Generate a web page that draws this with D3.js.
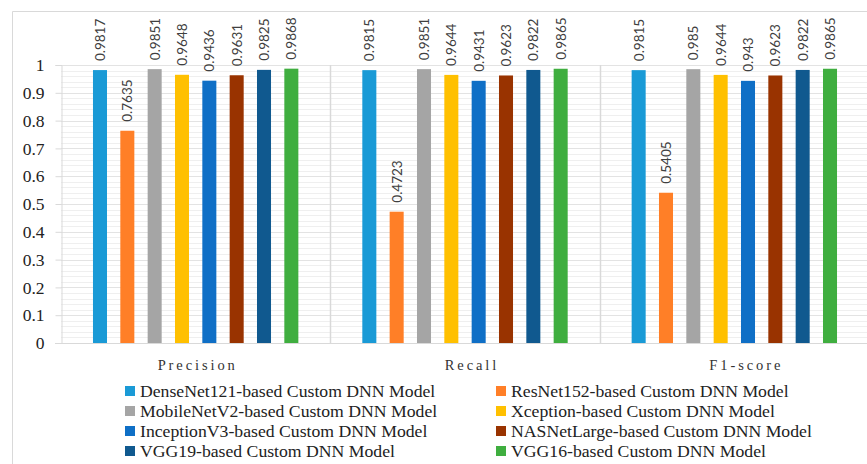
<!DOCTYPE html>
<html>
<head>
<meta charset="utf-8">
<script src="https://cdn.jsdelivr.net/npm/d3@7"></script>
<style>
  html, body { margin: 0; padding: 0; background: #fff; }
  svg { display: block; }
</style>
</head>
<body>
<svg id="chart" width="867" height="464"></svg>
<script>
// Metric groups along the x axis
const metrics = ["Precision", "Recall", "F1-score"];

// One model per bar within each metric group
const models = [
  "DenseNet121-based Custom DNN Model",
  "ResNet152-based Custom DNN Model",
  "MobileNetV2-based Custom DNN Model",
  "Xception-based Custom DNN Model",
  "InceptionV3-based Custom DNN Model",
  "NASNetLarge-based Custom DNN Model",
  "VGG19-based Custom DNN Model",
  "VGG16-based Custom DNN Model"
];

// Scores per metric, in the same order as the models
const precision = [0.9817, 0.7635, 0.9851, 0.9648, 0.9436, 0.9631, 0.9825, 0.9868];
const recall    = [0.9815, 0.4723, 0.9851, 0.9644, 0.9431, 0.9623, 0.9822, 0.9865];
const f1score   = [0.9815, 0.5405, 0.985,  0.9644, 0.943,  0.9623, 0.9822, 0.9865];

const yTicks = [0, 0.1, 0.2, 0.3, 0.4, 0.5, 0.6, 0.7, 0.8, 0.9, 1];

const colors = ["#1a9ad6", "#ff7f27", "#a5a5a5", "#ffc000", "#0f6fc6", "#993300", "#10598f", "#3fae3f"];

const seriesByMetric = [precision, recall, f1score];
const rows = metrics.map((m, i) => ({
  metric: m,
  values: models.map((name, j) => ({ model: name, value: seriesByMetric[i][j], idx: j }))
}));

const svg = d3.select("#chart");
const W = 867, H = 464;
const plot = { left: 61, right: 869, top: 65, bottom: 343 };

// Chart frame
svg.append("path")
  .attr("d", `M12.5,${H} L12.5,11.5 L${W},11.5`)
  .attr("fill", "none").attr("stroke", "#d9d9d9").attr("stroke-width", 1);

const y = d3.scaleLinear().domain([0, 1]).range([plot.bottom, plot.top]);
const x0 = d3.scaleBand().domain(metrics).range([plot.left, plot.right]).padding(0);
const x1 = d3.scaleBand().domain(d3.range(models.length))
  .range([0, x0.bandwidth()]).paddingInner(0.487).paddingOuter(1.17);

// Minor gridlines
const minor = d3.range(0, 1.0001, 0.02);
svg.append("g").selectAll("line").data(minor).join("line")
  .attr("x1", plot.left).attr("x2", plot.right)
  .attr("y1", d => Math.round(y(d)) + 0.5).attr("y2", d => Math.round(y(d)) + 0.5)
  .attr("stroke", "#efefef").attr("stroke-width", 1);

// Major gridlines
svg.append("g").selectAll("line").data(yTicks).join("line")
  .attr("x1", plot.left).attr("x2", plot.right)
  .attr("y1", d => Math.round(y(d)) + 0.5).attr("y2", d => Math.round(y(d)) + 0.5)
  .attr("stroke", "#e3e3e3").attr("stroke-width", 1);

// Group separators
svg.append("g").selectAll("line").data(metrics.slice(1)).join("line")
  .attr("x1", d => Math.round(x0(d)) + 0.5).attr("x2", d => Math.round(x0(d)) + 0.5)
  .attr("y1", plot.top).attr("y2", plot.bottom)
  .attr("stroke", "#d9d9d9").attr("stroke-width", 1.5);

// Y axis
const yAxis = d3.axisLeft(y).tickValues(yTicks).tickSize(6).tickPadding(11)
  .tickFormat(d => d3.format("")(+d.toFixed(1)));
const gy = svg.append("g").attr("transform", `translate(${plot.left + 0.5},0)`).call(yAxis);
gy.select(".domain").attr("stroke", "#d9d9d9");
gy.selectAll(".tick line").attr("stroke", "#d9d9d9");
gy.selectAll(".tick text")
  .attr("font-family", "'Liberation Serif', serif").attr("font-size", 17.5).attr("fill", "#222");

// X baseline
svg.append("line")
  .attr("x1", plot.left - 6).attr("x2", plot.right)
  .attr("y1", plot.bottom + 0.5).attr("y2", plot.bottom + 0.5)
  .attr("stroke", "#d9d9d9").attr("stroke-width", 1);

// Bars
const groups = svg.append("g").selectAll("g").data(rows).join("g")
  .attr("transform", d => `translate(${x0(d.metric)},0)`);

groups.selectAll("rect").data(d => d.values).join("rect")
  .attr("x", d => x1(d.idx))
  .attr("width", x1.bandwidth())
  .attr("y", d => y(d.value))
  .attr("height", d => y(0) - y(d.value))
  .attr("fill", d => colors[d.idx]);

// Value labels, rotated above each bar
groups.selectAll("text.val").data(d => d.values).join("text")
  .attr("class", "val")
  .attr("transform", d => `translate(${x1(d.idx) + x1.bandwidth() / 2 + 5},${y(d.value) - 9}) rotate(-90)`)
  .attr("font-family", "Lato, sans-serif").attr("font-size", 13.5)
  .attr("fill", "#404040")
  .text(d => String(d.value));

// Category labels
svg.append("g").selectAll("text").data(metrics).join("text")
  .attr("x", (d, i) => x0(d) + x0.bandwidth() / 2 + 2 + i * 5)
  .attr("y", 370)
  .attr("text-anchor", "middle")
  .attr("font-family", "'Liberation Serif', serif").attr("font-size", 14.5)
  .attr("letter-spacing", "2.9px")
  .attr("fill", "#333")
  .text(d => d);

// Legend in two columns
const legend = svg.append("g").selectAll("g").data(models).join("g")
  .attr("transform", (d, i) => `translate(${i % 2 === 0 ? 125 : 496},${391 + Math.floor(i / 2) * 20})`);
legend.append("rect")
  .attr("x", 0).attr("y", -5).attr("width", 10).attr("height", 10)
  .attr("fill", (d, i) => colors[i]);
legend.append("text")
  .attr("x", 15).attr("y", 5.5)
  .attr("font-family", "'Liberation Serif', serif").attr("font-size", 17.7)
  .attr("fill", "#222")
  .text(d => d);
</script>
</body>
</html>
